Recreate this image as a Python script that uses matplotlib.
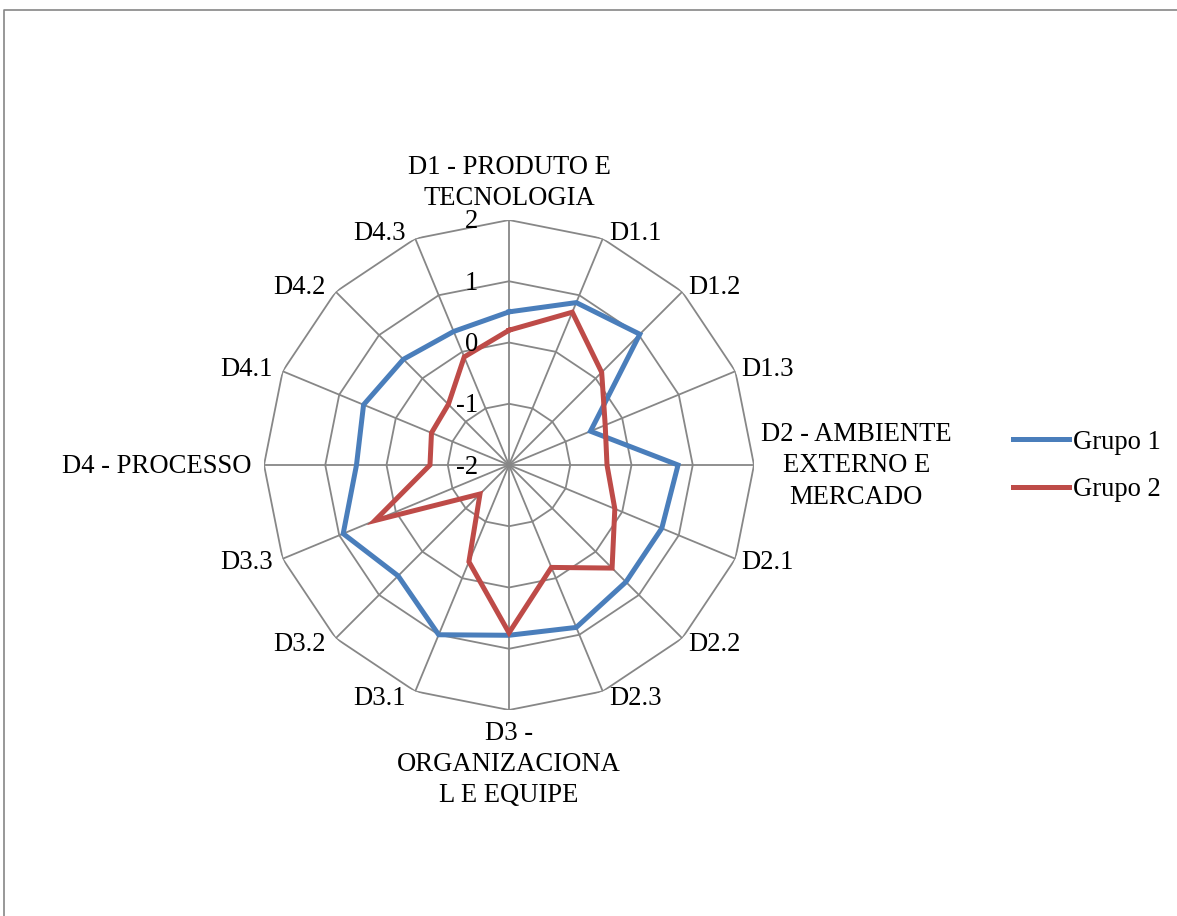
import numpy as np
import matplotlib.pyplot as plt
from matplotlib.lines import Line2D

plt.rcParams['font.family'] = ['Liberation Serif', 'DejaVu Serif']

categories = ['D1 - PRODUTO E\nTECNOLOGIA', 'D1.1', 'D1.2', 'D1.3',
              'D2 - AMBIENTE\nEXTERNO E\nMERCADO', 'D2.1', 'D2.2', 'D2.3',
              'D3 -\nORGANIZACIONA\nL E EQUIPE', 'D3.1', 'D3.2', 'D3.3',
              'D4 - PROCESSO', 'D4.1', 'D4.2', 'D4.3']
grupo1 = [0.50, 0.87, 1.02, -0.56, 0.76, 0.70, 0.70, 0.87,
          0.78, 1.00, 0.56, 0.93, 0.49, 0.57, 0.44, 0.36]
grupo2 = [0.20, 0.70, 0.14, -0.30, -0.40, -0.13, 0.38, -0.19,
          0.74, -0.29, -1.33, 0.37, -0.71, -0.63, -0.60, -0.09]
ring_values = [-2, -1, 0, 1, 2]

W, H = 1177, 916
fig = plt.figure(figsize=(W / 100, H / 100), dpi=100)

# outer chart border (runs off the right and bottom edges)
fig.add_artist(Line2D([4 / W, 4 / W, 1.0], [0.0, 1 - 10 / H, 1 - 10 / H],
                      transform=fig.transFigure, color='#868686', lw=1.2))

cx, cy, R = 509, 465, 245
ax = fig.add_axes([(cx - R) / W, (H - cy - R) / H, 2 * R / W, 2 * R / H],
                  projection='polar')
ax.set_theta_zero_location('N')
ax.set_theta_direction(-1)
ax.set_ylim(-2, 2)
ax.grid(False)
ax.spines['polar'].set_visible(False)
ax.set_xticks([])
ax.set_yticks([])
ax.patch.set_alpha(0)

n = len(categories)
theta = np.arange(n) * 2 * np.pi / n
closed = np.append(theta, theta[0])

grid_col = '#878787'
for r in ring_values[1:]:
    ax.plot(closed, [r] * (n + 1), color=grid_col, lw=1.3, zorder=1)
for t in theta:
    ax.plot([t, t], [-2, 2], color=grid_col, lw=1.3, zorder=1)

ax.plot(closed, grupo1 + grupo1[:1], color='#4A7EBB', lw=3.6,
        label='Grupo 1', zorder=3, solid_joinstyle='miter')
ax.plot(closed, grupo2 + grupo2[:1], color='#BE4B48', lw=3.6,
        label='Grupo 2', zorder=3, solid_joinstyle='miter')

fs = 19.2
# radial value labels along the top spoke
for r in ring_values:
    ax.annotate(str(r), xy=(0, r), xytext=(-31, -2), textcoords='offset pixels',
                ha='right', va='center', fontsize=fs, annotation_clip=False)

# category labels around the outer ring
for t, lab in zip(theta, categories):
    s, c = np.sin(t), np.cos(t)
    if abs(s) < 1e-6:
        ha = 'center'
        va = 'bottom' if c > 0 else 'top'
        off = (0, 9) if c > 0 else (0, -11)
    elif abs(c) < 1e-6:
        ha = 'left' if s > 0 else 'right'
        va = 'center'
        off = (7, -1) if s > 0 else (-13, -1)
    else:
        ha = 'left' if s > 0 else 'right'
        va = 'center'
        off = (6 if s > 0 else -10, 7 * c - 1)
    ax.annotate(lab, xy=(t, 2), xytext=off, textcoords='offset pixels',
                ha=ha, va=va, fontsize=fs, multialignment='center',
                linespacing=1.32, annotation_clip=False)

fig.legend(loc='center left', bbox_to_anchor=(1013 / W, 1 - 466 / H),
           frameon=False, fontsize=fs, handlelength=2.1, handletextpad=0.14,
           borderpad=0, borderaxespad=0, labelspacing=0.85)

fig.savefig('out.png', dpi=100)
